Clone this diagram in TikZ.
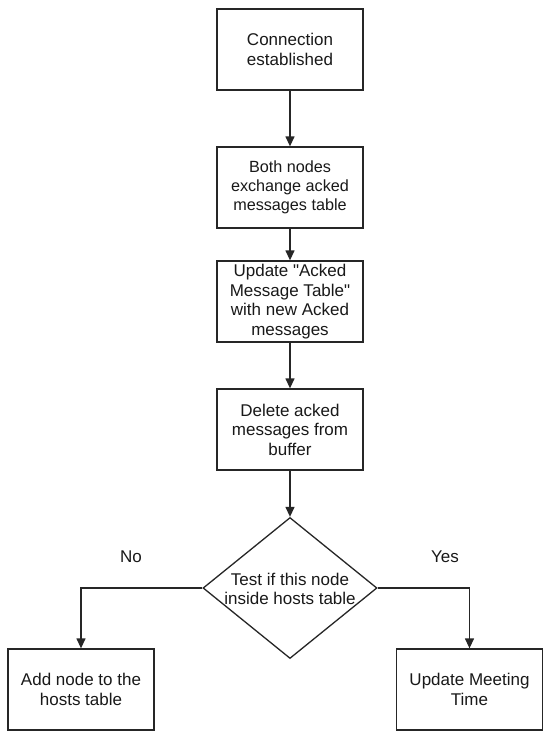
\documentclass[tikz,border=0pt]{standalone}
\usepackage{fontspec}
\setmainfont{Liberation Sans}[Ligatures=TeXOff]
\usetikzlibrary{shapes.geometric,arrows.meta}
\tikzset{
  stepbox/.style={draw=black!85, line width=1.3pt, minimum width=146pt, minimum height=81pt, inner sep=0pt, align=center, font=\fontsize{17}{19.5}\selectfont, text=black!90},
  decbox/.style={diamond, draw=black!85, line width=1.3pt, minimum width=174pt, minimum height=141pt, inner sep=0pt},
  txt/.style={align=center, inner sep=0pt, font=\fontsize{17}{19.5}\selectfont, text=black!90},
  conn/.style={draw=black!85, line width=1.3pt, -{Triangle[length=10pt,width=9pt]}}
}
\begin{document}
\begin{tikzpicture}[x=1pt,y=-1pt]
\useasboundingbox (0,0) rectangle (550,740);
\fill[white] (0,0) rectangle (550,740);
\node[stepbox] (b1) at (290,49.5) {Connection\\established};
\node[stepbox, font=\fontsize{16.2}{19}\selectfont] (b2) at (290,187.5) {Both nodes\\exchange acked\\messages table};
\node[stepbox] (b3) at (290,301.5) {Update "Acked\\Message Table"\\with new Acked\\messages};
\node[stepbox] (b4) at (290,429.5) {Delete acked\\messages from\\buffer};
\node[decbox] (dec) at (290,588) {};
\node[txt] (dectxt) at (290,589) {Test if this node\\inside hosts table};
\node[stepbox] (add) at (81,689.5) {Add node to the\\hosts table};
\node[stepbox] (upd) at (469.5,689.5) {Update Meeting\\Time};
\node[txt] (no) at (131,557) {No};
\node[txt] (yes) at (445,557) {Yes};
\draw[conn] (b1) -- (b2);
\draw[conn] (b2) -- (b3);
\draw[conn] (b3) -- (b4);
\draw[conn] (b4) -- (dec.north);
\draw[conn] (dec.west) -| (add.north);
\draw[conn] (dec.east) -| (upd.north);
\end{tikzpicture}
\end{document}
